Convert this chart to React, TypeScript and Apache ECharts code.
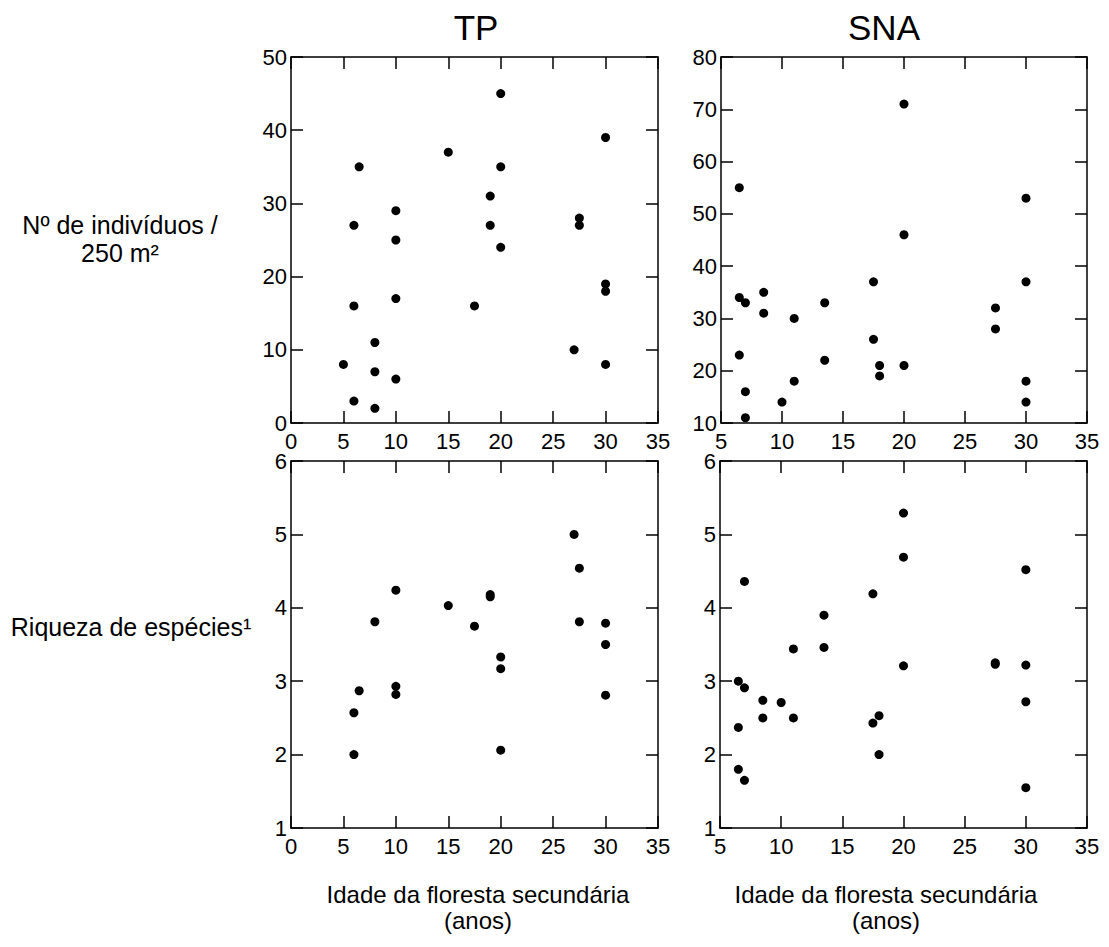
import React, { useEffect, useRef } from "react";
import * as echarts from "echarts";

const tpIndX = [5, 6, 6, 6, 6.5, 8, 8, 8, 10, 10, 10, 10, 15, 17.5, 19, 19, 20, 20, 20, 27, 27.5, 27.5, 30, 30, 30, 30];
const tpIndY = [8, 3, 16, 27, 35, 11, 7, 2, 29, 25, 17, 6, 37, 16, 31, 27, 45, 35, 24, 10, 28, 27, 39, 19, 18, 8];

const snaIndX = [6.5, 6.5, 6.5, 7, 7, 7, 8.5, 8.5, 10, 11, 11, 13.5, 13.5, 17.5, 17.5, 18, 18, 20, 20, 20, 27.5, 27.5, 30, 30, 30, 30];
const snaIndY = [55, 34, 23, 33, 16, 11, 35, 31, 14, 30, 18, 33, 22, 37, 26, 21, 19, 71, 46, 21, 32, 28, 53, 37, 18, 14];

const tpRichX = [6, 6, 6.5, 8, 10, 10, 10, 15, 17.5, 19, 19, 20, 20, 20, 27, 27.5, 27.5, 30, 30, 30];
const tpRichY = [2.0, 2.57, 2.87, 3.81, 4.24, 2.93, 2.82, 4.03, 3.75, 4.18, 4.15, 3.33, 3.17, 2.06, 5.0, 4.54, 3.81, 3.79, 3.5, 2.81];

const snaRichX = [6.5, 6.5, 6.5, 7, 7, 7, 8.5, 8.5, 10, 11, 11, 13.5, 13.5, 17.5, 17.5, 18, 18, 20, 20, 20, 27.5, 27.5, 30, 30, 30, 30];
const snaRichY = [3.0, 2.37, 1.8, 4.36, 2.91, 1.65, 2.74, 2.5, 2.71, 3.44, 2.5, 3.9, 3.46, 4.19, 2.43, 2.53, 2.0, 5.29, 4.69, 3.21, 3.25, 3.23, 4.52, 3.22, 2.72, 1.55];

const panelTitles = ["TP", "SNA"];
const rowLabels = ["Nº de indivíduos /\n250 m²", "Riqueza de espécies¹"];
const xTitle = "Idade da floresta secundária\n(anos)";

// axis ranges per panel: [xMin, xMax, xInt, yMin, yMax, yInt]
const ranges = [
  [0, 35, 5, 0, 50, 10],
  [5, 35, 5, 10, 80, 10],
  [0, 35, 5, 1, 6, 1],
  [5, 35, 5, 1, 6, 1],
];

const FONT = "Liberation Sans, Arial, sans-serif";

export default function App() {
  const ref = useRef<HTMLDivElement>(null);
  useEffect(() => {
    if (!ref.current) return;
    const chart = echarts.init(ref.current, null, { renderer: "svg" });
    const grids = [
      { left: 291, top: 57, width: 367, height: 366 },
      { left: 721, top: 57, width: 366, height: 366 },
      { left: 291, top: 461, width: 367, height: 367 },
      { left: 720, top: 461, width: 367, height: 367 },
    ];
    const lineStyle = { color: "#000", width: 1.5 };
    const xAxes: any[] = [];
    const yAxes: any[] = [];
    ranges.forEach((r, i) => {
      const common = { type: "value", gridIndex: i, splitLine: { show: false }, axisLine: { show: true, onZero: false, lineStyle } };
      xAxes.push({
        ...common,
        position: "bottom",
        min: r[0],
        max: r[1],
        interval: r[2],
        axisTick: { inside: true, length: 12, lineStyle },
        axisLabel: { color: "#000", fontSize: 22, fontFamily: FONT, margin: 7 },
      });
      xAxes.push({
        ...common,
        position: "top",
        min: r[0],
        max: r[1],
        interval: r[2],
        axisTick: { inside: true, length: 12, lineStyle },
        axisLabel: { show: false },
      });
      yAxes.push({
        ...common,
        position: "left",
        min: r[3],
        max: r[4],
        interval: r[5],
        axisTick: { inside: true, length: 12, lineStyle },
        axisLabel: { color: "#000", fontSize: 22, fontFamily: FONT, margin: 4 },
      });
      yAxes.push({
        ...common,
        position: "right",
        min: r[3],
        max: r[4],
        interval: r[5],
        axisTick: { inside: true, length: 12, lineStyle },
        axisLabel: { show: false },
      });
    });
    const zip = (xs: number[], ys: number[]) => xs.map((x, k) => [x, ys[k]]);
    const datasets = [zip(tpIndX, tpIndY), zip(snaIndX, snaIndY), zip(tpRichX, tpRichY), zip(snaRichX, snaRichY)];
    const series = datasets.map((d, i) => ({
      type: "scatter",
      xAxisIndex: i * 2,
      yAxisIndex: i * 2,
      data: d,
      symbol: "circle",
      symbolSize: 9,
      itemStyle: { color: "#000", opacity: 1 },
    }));
    const txt = (text: string, x: number, y: number, size: number, lh?: number) => ({
      type: "text",
      x,
      y,
      style: {
        text,
        fill: "#000",
        fontSize: size,
        fontFamily: FONT,
        lineHeight: lh || size,
        align: "center",
        verticalAlign: "middle",
      },
    });
    const graphic = [
      txt(panelTitles[0], 476, 27, 35),
      txt(panelTitles[1], 884, 27, 35),
      txt(rowLabels[0], 120, 239, 25, 28),
      txt(rowLabels[1], 131, 627, 25),
      txt(xTitle, 478, 907, 24, 26),
      txt(xTitle, 886, 907, 24, 26),
    ];
    chart.setOption({
      animation: false,
      backgroundColor: "#fff",
      grid: grids,
      xAxis: xAxes,
      yAxis: yAxes,
      series,
      graphic,
    });
    return () => chart.dispose();
  }, []);
  return <div ref={ref} style={{ position: "fixed", left: 0, top: 0, width: 1109, height: 947 }} />;
}
